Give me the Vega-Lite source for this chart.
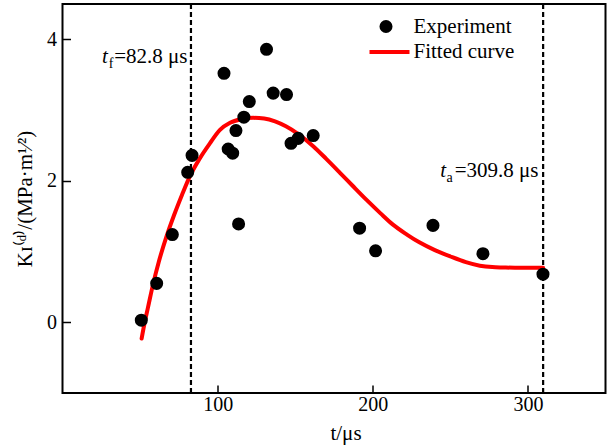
{
  "$schema": "https://vega.github.io/schema/vega-lite/v6.json",
  "width": 543,
  "height": 389,
  "autosize": {"type": "none"},
  "padding": {"left": 62.5, "top": 4, "right": 8.5, "bottom": 52},
  "background": "#ffffff",
  "config": {
    "font": "Liberation Serif",
    "view": {"stroke": "#000000", "strokeWidth": 2},
    "axis": {
      "domain": false,
      "grid": false,
      "ticks": true,
      "tickColor": "#000000",
      "tickWidth": 1.5,
      "tickSize": -8,
      "format": "d",
      "labelFont": "Liberation Serif",
      "labelFontSize": 20,
      "labelColor": "#000000",
      "titleFont": "Liberation Serif",
      "titleFontSize": 21,
      "titleFontWeight": "normal",
      "titleColor": "#000000"
    },
    "legend": {
      "labelFont": "Liberation Serif",
      "labelFontSize": 21,
      "labelColor": "#000000",
      "padding": 0
    }
  },
  "datasets": {
    "experiment": [
      {"t": 50.8, "k": 0.03, "series": "Experiment"},
      {"t": 60.7, "k": 0.55, "series": "Experiment"},
      {"t": 70.8, "k": 1.24, "series": "Experiment"},
      {"t": 80.7, "k": 2.12, "series": "Experiment"},
      {"t": 83.5, "k": 2.36, "series": "Experiment"},
      {"t": 104.1, "k": 3.52, "series": "Experiment"},
      {"t": 106.8, "k": 2.45, "series": "Experiment"},
      {"t": 109.7, "k": 2.39, "series": "Experiment"},
      {"t": 111.8, "k": 2.71, "series": "Experiment"},
      {"t": 113.5, "k": 1.39, "series": "Experiment"},
      {"t": 116.9, "k": 2.9, "series": "Experiment"},
      {"t": 120.4, "k": 3.12, "series": "Experiment"},
      {"t": 131.5, "k": 3.86, "series": "Experiment"},
      {"t": 135.8, "k": 3.24, "series": "Experiment"},
      {"t": 144.4, "k": 3.22, "series": "Experiment"},
      {"t": 147.3, "k": 2.53, "series": "Experiment"},
      {"t": 151.9, "k": 2.6, "series": "Experiment"},
      {"t": 161.6, "k": 2.64, "series": "Experiment"},
      {"t": 191.5, "k": 1.33, "series": "Experiment"},
      {"t": 201.8, "k": 1.01, "series": "Experiment"},
      {"t": 238.8, "k": 1.37, "series": "Experiment"},
      {"t": 271.0, "k": 0.97, "series": "Experiment"},
      {"t": 309.7, "k": 0.68, "series": "Experiment"}
    ],
    "fit": [
      {"t": 51, "k": -0.23, "series": "Fitted curve"},
      {"t": 53, "k": 0.0, "series": "Fitted curve"},
      {"t": 55, "k": 0.2, "series": "Fitted curve"},
      {"t": 58.5, "k": 0.55, "series": "Fitted curve"},
      {"t": 62, "k": 0.85, "series": "Fitted curve"},
      {"t": 67, "k": 1.21, "series": "Fitted curve"},
      {"t": 72, "k": 1.52, "series": "Fitted curve"},
      {"t": 77, "k": 1.8, "series": "Fitted curve"},
      {"t": 82, "k": 2.06, "series": "Fitted curve"},
      {"t": 88, "k": 2.3, "series": "Fitted curve"},
      {"t": 95, "k": 2.53, "series": "Fitted curve"},
      {"t": 101.5, "k": 2.72, "series": "Fitted curve"},
      {"t": 108, "k": 2.82, "series": "Fitted curve"},
      {"t": 115, "k": 2.87, "series": "Fitted curve"},
      {"t": 123, "k": 2.89, "series": "Fitted curve"},
      {"t": 130, "k": 2.88, "series": "Fitted curve"},
      {"t": 137, "k": 2.84, "series": "Fitted curve"},
      {"t": 144, "k": 2.77, "series": "Fitted curve"},
      {"t": 152, "k": 2.66, "series": "Fitted curve"},
      {"t": 161.6, "k": 2.49, "series": "Fitted curve"},
      {"t": 170, "k": 2.31, "series": "Fitted curve"},
      {"t": 179, "k": 2.11, "series": "Fitted curve"},
      {"t": 187, "k": 1.93, "series": "Fitted curve"},
      {"t": 196, "k": 1.73, "series": "Fitted curve"},
      {"t": 205, "k": 1.54, "series": "Fitted curve"},
      {"t": 213, "k": 1.38, "series": "Fitted curve"},
      {"t": 222, "k": 1.24, "series": "Fitted curve"},
      {"t": 230, "k": 1.13, "series": "Fitted curve"},
      {"t": 240, "k": 1.02, "series": "Fitted curve"},
      {"t": 250, "k": 0.93, "series": "Fitted curve"},
      {"t": 260, "k": 0.85, "series": "Fitted curve"},
      {"t": 269, "k": 0.8, "series": "Fitted curve"},
      {"t": 277, "k": 0.78, "series": "Fitted curve"},
      {"t": 284, "k": 0.775, "series": "Fitted curve"},
      {"t": 295, "k": 0.77, "series": "Fitted curve"},
      {"t": 309.8, "k": 0.77, "series": "Fitted curve"}
    ],
    "markers": [
      {"t": 82.8, "sym": "t", "sub": "f", "label": "=82.8 μs"},
      {"t": 309.8, "sym": "t", "sub": "a", "label": "=309.8 μs"}
    ]
  },
  "layer": [
    {
      "data": {"name": "markers"},
      "mark": {"type": "rule", "color": "#000000", "strokeWidth": 2.2, "strokeDash": [5, 3]},
      "encoding": {
        "x": {
          "field": "t",
          "type": "quantitative",
          "scale": {"domain": [0, 350], "nice": false, "zero": false},
          "axis": {"values": [100, 200, 300], "labelPadding": 9, "title": "t/μs", "titlePadding": 8, "titleX": 283}
        }
      }
    },
    {
      "data": {"name": "fit"},
      "mark": {"type": "line", "strokeWidth": 4, "interpolate": "monotone", "strokeCap": "round"},
      "encoding": {
        "x": {"field": "t", "type": "quantitative", "title": "t/μs"},
        "y": {
          "field": "k",
          "type": "quantitative",
          "scale": {"domain": [-1, 4.5], "nice": false, "zero": false},
          "axis": {"values": [0, 2, 4], "labelPadding": 14, "title": "Kɪ⁽ᵈ⁾/(MPa·m¹⁄²)", "titlePadding": 11}
        },
        "color": {
          "field": "series",
          "type": "nominal",
          "scale": {"domain": ["Fitted curve"], "range": ["#ff0000"]},
          "legend": {
            "title": null,
            "orient": "none",
            "legendX": 305,
            "legendY": 26,
            "symbolType": "stroke",
            "symbolSize": 1600,
            "symbolStrokeWidth": 4,
            "labelOffset": 2
          }
        }
      }
    },
    {
      "data": {"name": "experiment"},
      "mark": {"type": "point", "filled": true, "color": "#000000", "opacity": 1, "size": 170},
      "encoding": {
        "x": {"field": "t", "type": "quantitative", "title": "t/μs"},
        "y": {"field": "k", "type": "quantitative", "title": "Kɪ⁽ᵈ⁾/(MPa·m¹⁄²)"},
        "shape": {
          "field": "series",
          "type": "nominal",
          "scale": {"domain": ["Experiment"], "range": ["circle"]},
          "legend": {
            "title": null,
            "orient": "none",
            "legendX": 313,
            "legendY": 12,
            "symbolSize": 170,
            "symbolFillColor": "#000000",
            "symbolStrokeColor": "#000000",
            "symbolOpacity": 1,
            "labelOffset": 17
          }
        }
      }
    },
    {
      "data": {"name": "markers"},
      "transform": [{"filter": "datum.t < 100"}],
      "layer": [
        {
          "mark": {"type": "text", "align": "right", "baseline": "alphabetic", "fontSize": 21, "dx": -3.5, "color": "#000000"},
          "encoding": {"x": {"field": "t", "type": "quantitative", "title": "t/μs"}, "y": {"datum": 3.66}, "text": {"field": "label"}}
        },
        {
          "mark": {"type": "text", "align": "right", "baseline": "alphabetic", "fontSize": 14, "dx": -77.5, "dy": 5, "color": "#000000"},
          "encoding": {"x": {"field": "t", "type": "quantitative", "title": "t/μs"}, "y": {"datum": 3.66}, "text": {"field": "sub"}}
        },
        {
          "mark": {"type": "text", "align": "right", "baseline": "alphabetic", "fontSize": 21, "fontStyle": "italic", "dx": -83, "color": "#000000"},
          "encoding": {"x": {"field": "t", "type": "quantitative", "title": "t/μs"}, "y": {"datum": 3.66}, "text": {"field": "sym"}}
        }
      ]
    },
    {
      "data": {"name": "markers"},
      "transform": [{"filter": "datum.t > 100"}],
      "layer": [
        {
          "mark": {"type": "text", "align": "right", "baseline": "alphabetic", "fontSize": 21, "dx": -4.7, "color": "#000000"},
          "encoding": {"x": {"field": "t", "type": "quantitative", "title": "t/μs"}, "y": {"datum": 2.06}, "text": {"field": "label"}}
        },
        {
          "mark": {"type": "text", "align": "right", "baseline": "alphabetic", "fontSize": 14, "dx": -90.5, "dy": 5, "color": "#000000"},
          "encoding": {"x": {"field": "t", "type": "quantitative", "title": "t/μs"}, "y": {"datum": 2.06}, "text": {"field": "sub"}}
        },
        {
          "mark": {"type": "text", "align": "right", "baseline": "alphabetic", "fontSize": 21, "fontStyle": "italic", "dx": -97, "color": "#000000"},
          "encoding": {"x": {"field": "t", "type": "quantitative", "title": "t/μs"}, "y": {"datum": 2.06}, "text": {"field": "sym"}}
        }
      ]
    }
  ]
}
